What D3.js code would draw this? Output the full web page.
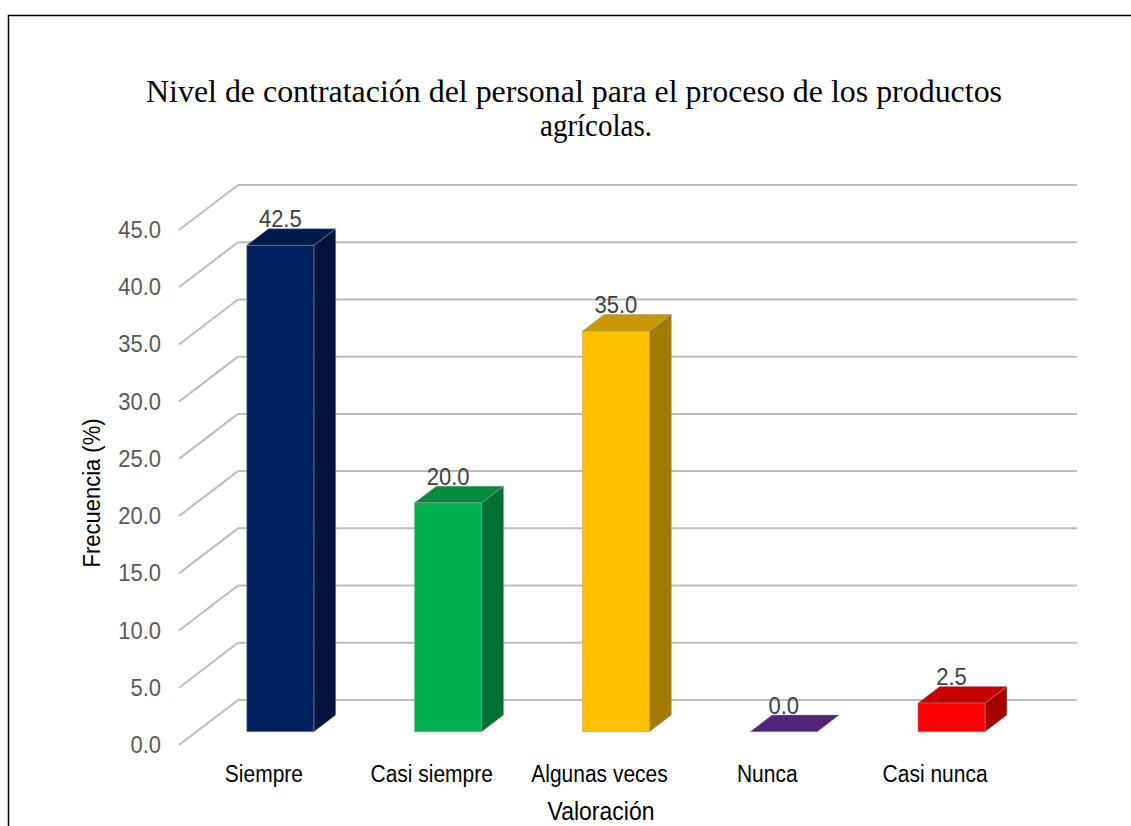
<html>
<head>
    <meta charset="UTF-8">
    <script type="text/javascript" src="https://d3js.org/d3.v7.min.js"></script>
    <style>
        body { margin: 0; background: #fff; }
    </style>
</head>
<body>
    <svg width="1131" height="826"></svg>
    <script>
        // datos del grafico
        var categorias = ["Siempre", "Casi siempre", "Algunas veces", "Nunca", "Casi nunca"];
        var valores = [42.5, 20.0, 35.0, 0.0, 2.5];
        var colores = ["#002060", "#00b050", "#ffc000", "#512479", "#ff0000"];
        var ticks = [0, 5, 10, 15, 20, 25, 30, 35, 40, 45];

        var svg = d3.select("svg");
        var SANS = "Liberation Sans, Arial, sans-serif";
        var SY = 1.12; // texto un poco mas alto que ancho, como en el original

        // marco
        svg.append("rect")
            .attr("x", 8.5).attr("y", 15.5)
            .attr("width", 1140).attr("height", 900)
            .attr("fill", "none").attr("stroke", "#000").attr("stroke-width", 1.5);

        // profundidad 3D (piso)
        var DX = 59, DY = 45;
        var z0 = 0.295, z1 = 0.665;

        var x = d3.scaleBand()
            .domain(categorias)
            .range([179, 1018]);
        var y = d3.scaleLinear()
            .domain([0, 45])
            .range([745, 230]);

        function P(xf, v, z) {
            return [xf + z * DX, y(v) - z * DY];
        }
        function at(px, py, sy) {
            return "translate(" + px + "," + py + ") scale(1," + (sy || SY) + ")";
        }

        // lineas de cuadricula: pared del fondo y diagonal del lado
        var grid = svg.append("g");
        ticks.forEach(function(t) {
            grid.append("line")
                .attr("x1", 179 + DX).attr("y1", y(t) - DY)
                .attr("x2", 1018 + DX).attr("y2", y(t) - DY)
                .attr("stroke", "#bdbdbd").attr("stroke-width", 2);
            grid.append("line")
                .attr("x1", 179).attr("y1", y(t))
                .attr("x2", 179 + DX).attr("y2", y(t) - DY)
                .attr("stroke", "#bdbdbd").attr("stroke-width", 2);
        });

        // etiquetas eje y
        svg.append("g").selectAll("text")
            .data(ticks)
            .enter().append("text")
            .attr("transform", function(d) { return at(161, y(d) + 8); })
            .attr("text-anchor", "end")
            .attr("font-family", SANS)
            .attr("font-size", 22)
            .attr("fill", "#595959")
            .text(function(d) { return d.toFixed(1); });

        // barras
        var bw = x.bandwidth() * 0.4;
        var gs = svg.append("g").selectAll("g")
            .data(valores)
            .enter().append("g");

        function poly(pts) {
            return "M" + pts.map(function(p) { return p.join(","); }).join("L") + "Z";
        }

        gs.each(function(d, i) {
            var g = d3.select(this);
            var xl = x(categorias[i]) + x.bandwidth() / 2 - bw / 2;
            var xr = xl + bw;
            var c = d3.color(colores[i]);
            var edge = "rgba(150,150,150,0.6)";
            if (d > 0) {
                // lado derecho
                g.append("path")
                    .attr("d", poly([P(xr, 0, z0), P(xr, 0, z1), P(xr, d, z1), P(xr, d, z0)]))
                    .attr("fill", c.darker(1.25)).attr("stroke", edge).attr("stroke-width", 0.8);
            }
            // cara superior
            g.append("path")
                .attr("d", poly([P(xl, d, z0), P(xl, d, z1), P(xr, d, z1), P(xr, d, z0)]))
                .attr("fill", d > 0 ? c.darker(0.65) : c).attr("stroke", edge).attr("stroke-width", 0.8);
            if (d > 0) {
                // cara frontal
                g.append("path")
                    .attr("d", poly([P(xl, 0, z0), P(xl, d, z0), P(xr, d, z0), P(xr, 0, z0)]))
                    .attr("fill", c).attr("stroke", edge).attr("stroke-width", 0.8);
            }
            // etiqueta de valor
            var pt = P((xl + xr) / 2, d, z0);
            g.append("text")
                .attr("transform", at(pt[0], pt[1] - 18))
                .attr("text-anchor", "middle")
                .attr("font-family", SANS)
                .attr("font-size", 22)
                .attr("fill", "#404040")
                .text(d.toFixed(1));
        });

        // etiquetas eje x
        svg.append("g").selectAll("text")
            .data(categorias)
            .enter().append("text")
            .attr("transform", function(d) { return at(x(d) + x.bandwidth() / 2 + 1, 782); })
            .attr("text-anchor", "middle")
            .attr("font-family", SANS)
            .attr("font-size", 21)
            .attr("fill", "#000")
            .text(function(d) { return d; });

        // titulos de ejes
        svg.append("text")
            .attr("transform", at(601, 820))
            .attr("text-anchor", "middle")
            .attr("font-family", SANS)
            .attr("font-size", 23)
            .text("Valoración");
        svg.append("text")
            .attr("transform", "translate(100,493) rotate(-90) scale(1," + SY + ")")
            .attr("text-anchor", "middle")
            .attr("font-family", SANS)
            .attr("font-size", 22)
            .text("Frecuencia (%)");

        // titulo
        var titulo = svg.append("g")
            .attr("font-family", "Liberation Serif, Times New Roman, serif")
            .attr("font-size", 29)
            .attr("text-anchor", "middle");
        titulo.append("text")
            .attr("transform", at(574, 102, 1.06))
            .attr("textLength", 856).attr("lengthAdjust", "spacingAndGlyphs")
            .text("Nivel de contratación del personal para el proceso de los productos");
        titulo.append("text")
            .attr("transform", at(596, 136, 1.06))
            .text("agrícolas.");
    </script>
</body>
</html>
